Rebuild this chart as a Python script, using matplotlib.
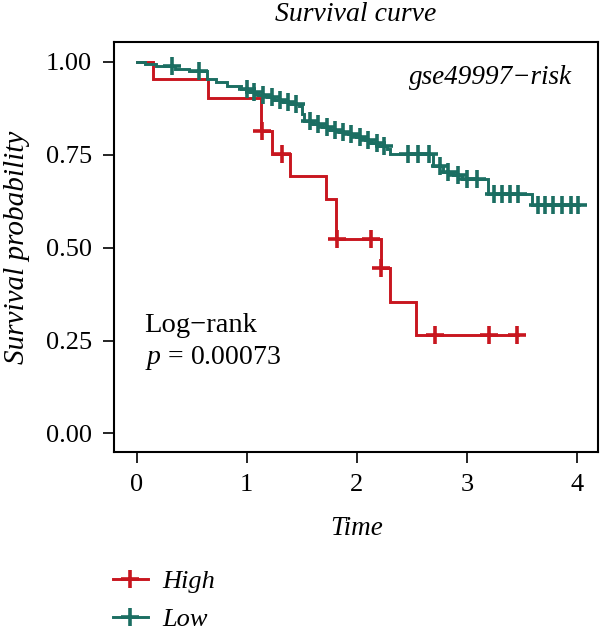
import numpy as np
import matplotlib
matplotlib.use("Agg")
import matplotlib.pyplot as plt

# survival steps (time, survival after the drop)
high_times = [0.145, 0.645, 1.13, 1.23, 1.39, 1.72, 1.81, 2.215, 2.30, 2.54]
high_surv = [0.953, 0.902, 0.813, 0.753, 0.692, 0.632, 0.524, 0.446, 0.354, 0.266]
high_censor = [1.14, 1.32, 1.815, 2.13, 2.22, 2.71, 3.20, 3.45]
high_end = 3.46

low_times = [0.08, 0.18, 0.35, 0.48, 0.64, 0.72, 0.82, 0.95, 1.03, 1.10, 1.18,
             1.25, 1.33, 1.40, 1.47, 1.50, 1.52, 1.60, 1.68, 1.76, 1.84, 1.92,
             1.99, 2.07, 2.13, 2.20, 2.27, 2.30, 2.69, 2.78, 2.87, 2.95, 3.19, 3.59]
low_surv = [0.995, 0.99, 0.98, 0.975, 0.955, 0.945, 0.935, 0.927, 0.918, 0.91, 0.905,
            0.898, 0.892, 0.886, 0.88, 0.86, 0.842, 0.834, 0.826, 0.818, 0.812, 0.805,
            0.798, 0.79, 0.782, 0.774, 0.766, 0.752, 0.72, 0.705, 0.695, 0.685, 0.645, 0.615]
low_censor = [0.32, 0.57, 1.0, 1.07, 1.15, 1.23, 1.30, 1.37, 1.45, 1.57, 1.65, 1.73,
              1.80, 1.87, 1.95, 2.03, 2.10, 2.18, 2.25, 2.46, 2.55, 2.65, 2.75, 2.83,
              2.92, 3.0, 3.09, 3.24, 3.32, 3.39, 3.46, 3.64, 3.71, 3.78, 3.86, 3.94, 4.01]
low_end = 4.02

groups = ["High", "Low"]
colors = ["#C8161F", "#1B6E62"]
x_ticks = [0, 1, 2, 3, 4]
y_ticks = [0.00, 0.25, 0.50, 0.75, 1.00]
y_labels = ["0.00", "0.25", "0.50", "0.75", "1.00"]

plt.rcParams["font.family"] = ["Liberation Serif", "DejaVu Serif"]
plt.rcParams["mathtext.fontset"] = "custom"
plt.rcParams["mathtext.it"] = "Liberation Serif:italic"
plt.rcParams["mathtext.rm"] = "Liberation Serif"


def curve(ax, times, surv, censor, end, color, label):
    t = np.concatenate([[0], times, [end]])
    s = np.concatenate([[1.0], surv, [surv[-1]]])
    ax.step(t, s, where="post", color=color, lw=2.1, solid_joinstyle="miter")
    idx = np.searchsorted(times, censor, side="right")
    cs = np.concatenate([[1.0], surv])[idx]
    ax.plot(censor, cs, ls="none", marker="+", ms=13, mew=2.6, color=color)
    h, = ax.plot([], [], color=color, lw=2.1, marker="+", ms=13, mew=2.6, label=label)
    return h


def main():
    fig = plt.figure(figsize=(6, 6.34), dpi=100)
    ax = fig.add_axes([0.19, 0.287, 0.807, 0.647])

    h1 = curve(ax, high_times, high_surv, high_censor, high_end, colors[0], groups[0])
    h2 = curve(ax, low_times, low_surv, low_censor, low_end, colors[1], groups[1])

    ax.set_xlim(-0.205, 4.19)
    ax.set_ylim(-0.05, 1.054)
    ax.set_xticks(x_ticks)
    ax.set_yticks(y_ticks)
    ax.set_yticklabels(y_labels)
    ax.tick_params(direction="out", length=8, width=1.2, labelsize=19, pad=8)
    for sp in ax.spines.values():
        sp.set_linewidth(1.5)

    ax.set_title("Survival curve", fontsize=20, style="italic", pad=15)
    ax.set_xlabel("Time", fontsize=19.5, style="italic", labelpad=14)
    ax.set_ylabel("Survival probability", fontsize=21, style="italic", labelpad=11)

    ax.text(3.95, 0.957, "gse49997\u2212risk", fontsize=19.5, style="italic",
            ha="right", va="center")
    ax.text(0.073, 0.29, "Log\u2212rank", fontsize=20.5, ha="left", va="center")
    ax.text(0.073, 0.204, "$p$ = 0.00073", fontsize=20, ha="left", va="center")

    fig.legend(handles=[h1, h2], loc="upper left", bbox_to_anchor=(0.17, 0.118),
               frameon=False, prop={"style": "italic", "size": 19},
               handlelength=1.35, handletextpad=0.55, labelspacing=0.55,
               borderaxespad=0)

    fig.savefig("out.png", dpi=100)


if __name__ == "__main__":
    main()
